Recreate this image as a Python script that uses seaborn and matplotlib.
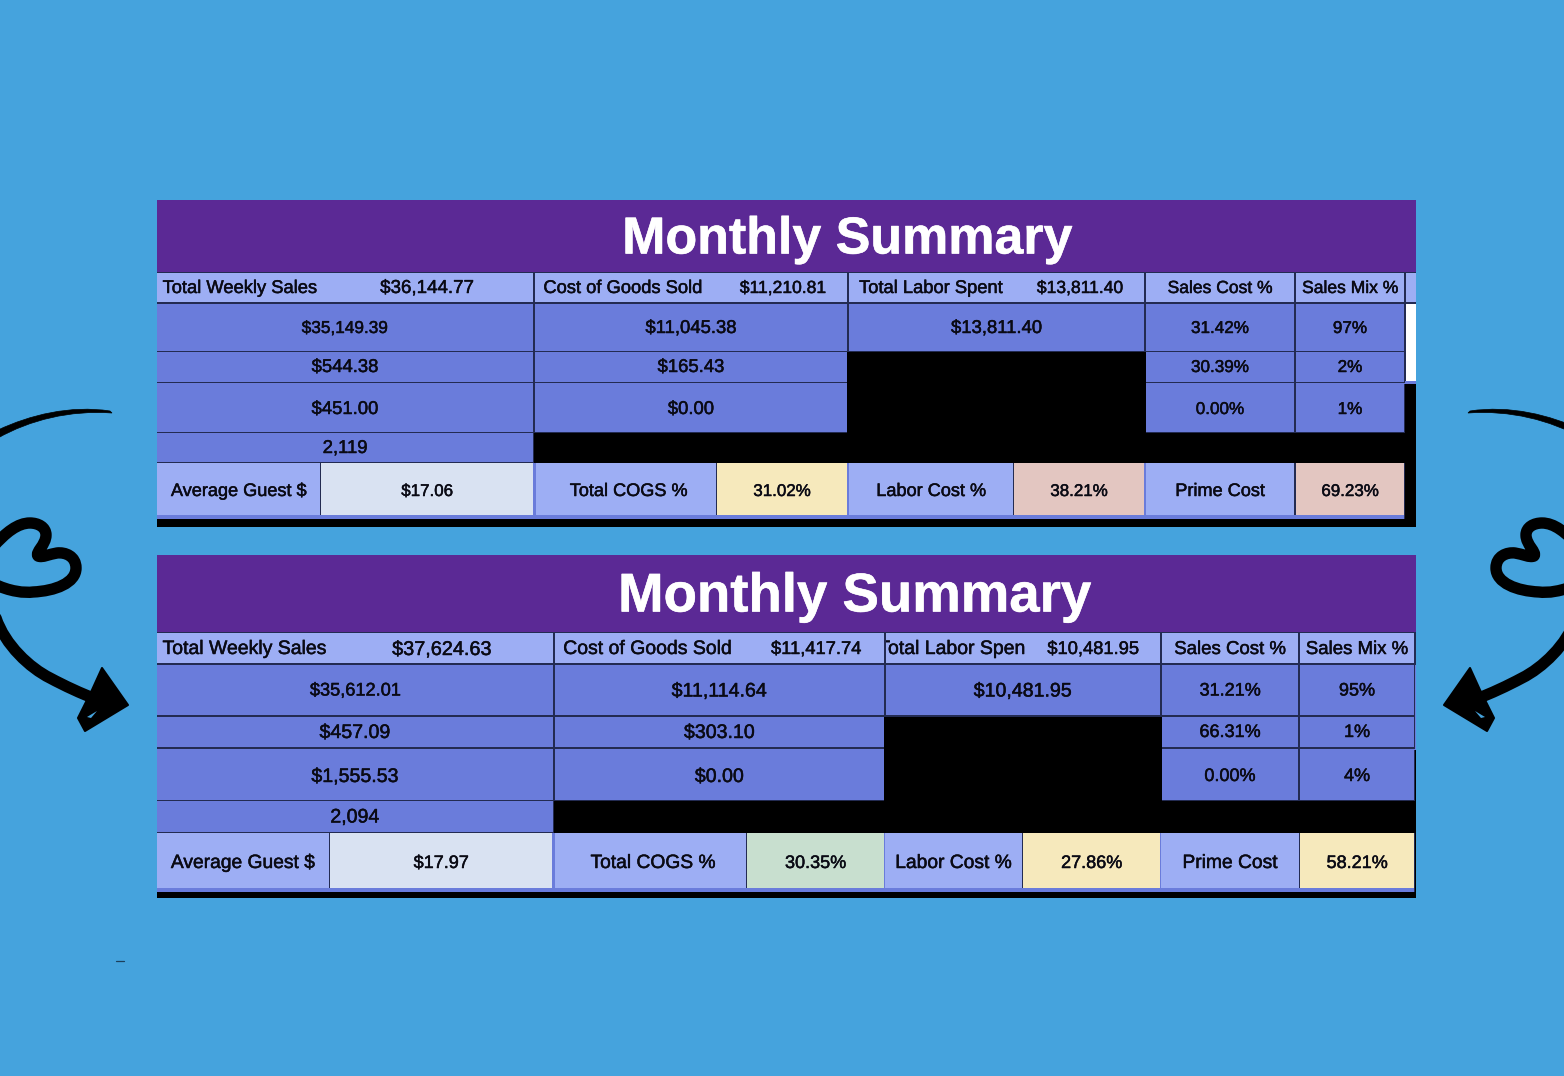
import matplotlib
matplotlib.use("Agg")
import matplotlib.pyplot as plt
import matplotlib.patheffects as pe
from matplotlib.colors import ListedColormap
from matplotlib.path import Path
from matplotlib.patches import PathPatch
import numpy as np
import seaborn as sns

W, H = 1564, 1076

# Table contents
title_text = "Monthly Summary"
header_labels = ["Total Weekly Sales", "Cost of Goods Sold", "Total Labor Spent", "Sales Cost %", "Sales Mix %"]
footer_labels = ["Average Guest $", "Total COGS %", "Labor Cost %", "Prime Cost"]

top_header_values = ["$36,144.77", "$11,210.81", "$13,811.40"]
top_sales = ["$35,149.39", "$544.38", "$451.00", "2,119"]
top_cost = ["$11,045.38", "$165.43", "$0.00"]
top_labor = ["$13,811.40"]
top_cost_pct = ["31.42%", "30.39%", "0.00%"]
top_mix_pct = ["97%", "2%", "1%"]
top_footer_values = ["$17.06", "31.02%", "38.21%", "69.23%"]

bottom_header_values = ["$37,624.63", "$11,417.74", "$10,481.95"]
bottom_sales = ["$35,612.01", "$457.09", "$1,555.53", "2,094"]
bottom_cost = ["$11,114.64", "$303.10", "$0.00"]
bottom_labor = ["$10,481.95"]
bottom_cost_pct = ["31.21%", "66.31%", "0.00%"]
bottom_mix_pct = ["95%", "1%", "4%"]
bottom_footer_values = ["$17.97", "30.35%", "27.86%", "58.21%"]

# Colours
BG = "#45A3DD"
PURPLE = "#5B2995"
LIGHT = "#9DAEF4"
MID = "#6A7CDB"
LINE = "#232B52"
PALE = "#D9E2F2"
YELLOW = "#F6E9BC"
PINK = "#E3C6C1"
GREEN = "#C8DFCF"

# Pixel layout of the two tables
top_layout = {
    "top": 200, "title_bottom": 272, "title_x0": 278, "title_size": 37.4,
    "rows": [(273, 302), (304, 351), (352, 382), (383, 432), (433, 462), (463, 515)],
    "row_dy": [1, 1, 0.5, 2, 1, 2.5],
    "strip": (515, 519), "bottom": 527,
    "cols": [(157, 533), (535, 847), (849, 1144), (1146, 1294), (1296, 1404)],
    "foot": [(157, 320), (321, 533), (536, 716), (717, 847), (849, 1013), (1014, 1144), (1146, 1294), (1296, 1404)],
    "head_x": [(240, 427), (623, 783), (931, 1080)], "labor_split": None,
    "head_val_sizes": [13.5, 12.6, 12.6],
    "sizes": {"head": 13.2, "body": 13.3, "first": 12.4, "pct": 12.3, "foot": 12.2},
    "foot_colors": [PALE, YELLOW, PINK, PINK], "tail_color": "white",
    "tail_x": 1406, "strip_x1": 1405,
}
bottom_layout = {
    "top": 555, "title_bottom": 632, "title_x0": 294, "title_size": 39.3,
    "rows": [(633, 663), (665, 715), (717, 747), (749, 800), (801, 832), (833, 888)],
    "row_dy": [1.5, 1, 0.5, 2, 0.5, 3],
    "strip": (888, 892), "bottom": 898,
    "cols": [(157, 553), (555, 884), (886, 1160), (1162, 1298), (1300, 1414)],
    "foot": [(157, 329), (330, 552), (555, 746), (747, 884), (885, 1022), (1023, 1160), (1161, 1299), (1300, 1414)],
    "head_x": [(245, 442), (648, 816), (955, 1093)], "labor_split": 1025,
    "head_val_sizes": [14.3, 13.2, 13.2],
    "sizes": {"head": 14.0, "body": 14.1, "first": 13.1, "pct": 13.0, "foot": 13.0},
    "foot_colors": [PALE, GREEN, YELLOW, YELLOW], "tail_color": MID,
    "tail_x": 1415, "strip_x1": 1415,
}

sns.set_theme(style="white", font="Liberation Sans")
plt.rcParams["font.family"] = ["Liberation Sans", "DejaVu Sans"]

fig = plt.figure(figsize=(W / 100, H / 100), dpi=100, facecolor=BG)


def cell(x0, y0, x1, y1, color, label=None, size=13, center=None, dy=0, bold=False, text_color="#0A0A14", stroke=0.35):
    # every table cell is its own one-value heatmap, placed by pixel box
    ax = fig.add_axes([x0 / W, 1 - y1 / H, (x1 - x0) / W, (y1 - y0) / H])
    annot = np.array([[label]]) if label else False
    sns.heatmap(
        [[0]], ax=ax, cmap=ListedColormap([color]), cbar=False, annot=annot, fmt="",
        xticklabels=False, yticklabels=False,
        annot_kws={"fontsize": size, "color": text_color, "fontweight": "bold" if bold else "normal"},
    )
    if label:
        txt = ax.texts[0]
        txt.set_clip_on(True)
        txt.set_path_effects([pe.withStroke(linewidth=stroke, foreground=text_color)])
        txt.set_y(0.5 + dy / (y1 - y0))
        if center is not None:
            txt.set_x((center - x0) / (x1 - x0))
    return ax


def draw_table(L, head_vals, sales, cost, labor, cost_pct, mix_pct, foot_vals):
    rows, cols, foot, sz, dys = L["rows"], L["cols"], L["foot"], L["sizes"], L["row_dy"]
    cell(157, L["top"], 1416, L["bottom"], LINE)
    cell(157, L["top"], 1416, L["title_bottom"], PURPLE)
    cell(L["title_x0"], L["top"], 1416, L["title_bottom"], PURPLE, title_text, L["title_size"],
         dy=4, bold=True, text_color="white", stroke=0.4)

    # header row
    y0, y1 = rows[0]
    for i in range(3):
        x0, x1 = cols[i]
        lab_x, val_x = L["head_x"][i]
        if i == 2 and L["labor_split"]:
            split = L["labor_split"]
        else:
            split = x0 + int(0.55 * (x1 - x0))
        cell(x0, y0, split, y1, LIGHT, header_labels[i], sz["head"], center=lab_x, dy=dys[0])
        cell(split, y0, x1, y1, LIGHT, head_vals[i], L["head_val_sizes"][i], center=val_x, dy=dys[0])
    cell(cols[3][0], y0, cols[3][1], y1, LIGHT, header_labels[3], sz["head"] - 0.6, dy=dys[0])
    cell(cols[4][0], y0, cols[4][1], y1, LIGHT, header_labels[4], sz["head"] - 0.6, dy=dys[0])
    if L["tail_x"] < 1415:
        cell(L["tail_x"], y0, 1416, y1, LIGHT)

    # body columns
    for j, v in enumerate(sales):
        y0, y1 = rows[j + 1]
        cell(cols[0][0], y0, cols[0][1], y1, MID, v, sz["first"] if j == 0 else sz["body"], dy=dys[j + 1])
    for j, v in enumerate(cost):
        y0, y1 = rows[j + 1]
        cell(cols[1][0], y0, cols[1][1], y1, MID, v, sz["body"], dy=dys[j + 1])
    y0, y1 = rows[1]
    cell(cols[2][0], y0, cols[2][1], y1, MID, labor[0], sz["body"], dy=dys[1])
    for j, (a, b) in enumerate(zip(cost_pct, mix_pct)):
        y0, y1 = rows[j + 1]
        cell(cols[3][0], y0, cols[3][1], y1, MID, a, sz["pct"], dy=dys[j + 1])
        cell(cols[4][0], y0, cols[4][1], y1, MID, b, sz["pct"], dy=dys[j + 1])

    # blacked out blocks
    cell(cols[1][1], rows[2][0], cols[3][0], rows[3][1] + 1, "black")
    cell(cols[1][0] - 1, rows[4][0], 1416, rows[5][0], "black")
    cell(L["strip_x1"], rows[3][0] + 1, 1416, L["bottom"], "black")
    cell(L["tail_x"], rows[1][0], 1416, rows[2][1] - 1, L["tail_color"])
    cell(L["strip_x1"], rows[2][1] - 1, 1416, rows[3][0] + 1, MID)
    cell(cols[4][1], rows[3][0], 1416, rows[3][0] + 1, MID)

    # footer row
    y0, y1 = rows[5]
    cell(157, y0, foot[-1][1], L["strip"][1], MID)
    cell(157, L["strip"][1], 1416, L["bottom"], "black")
    for k in range(4):
        a, b = foot[2 * k], foot[2 * k + 1]
        mid_x = (a[0] + a[1]) / 2 + (2.5 if k == 1 else 0)
        cell(a[0], y0, b[1], y1, LINE)
        cell(a[0], y0, a[1], y1, LIGHT, footer_labels[k], sz["foot"] + 0.85, center=mid_x, dy=dys[5])
        cell(b[0], y0, b[1], y1, L["foot_colors"][k], foot_vals[k], sz["foot"], dy=dys[5])


draw_table(top_layout, top_header_values, top_sales, top_cost, top_labor, top_cost_pct, top_mix_pct, top_footer_values)
draw_table(bottom_layout, bottom_header_values, bottom_sales, bottom_cost, bottom_labor, bottom_cost_pct, bottom_mix_pct, bottom_footer_values)

# hand drawn arrows at the edges
overlay = fig.add_axes([0, 0, 1, 1], facecolor="none")
overlay.set_xlim(0, W)
overlay.set_ylim(H, 0)
overlay.axis("off")

C4 = Path.CURVE4
swoosh = [(-2, 430), (30, 415), (70, 405), (110, 411), (112, 413), (70, 410), (30, 420), (-2, 438)]
swoosh_codes = [Path.MOVETO, C4, C4, C4, Path.LINETO, C4, C4, C4]
heart = [(-8, 583), (10, 592), (25, 593), (33, 592), (55, 591), (76, 583), (76, 568),
         (76, 556), (65, 552), (57, 553), (50, 554), (42, 558), (38, 556),
         (35, 552), (46, 545), (46, 535), (46, 527), (38, 523), (30, 523),
         (18, 523), (6, 532), (-8, 548)]
heart_codes = [Path.MOVETO] + [C4] * 21
shaft = [(-4, 618), (5, 645), (30, 668), (50, 678), (65, 686), (80, 693), (98, 700)]
shaft_codes = [Path.MOVETO] + [C4] * 6
head = [(102, 668), (128, 705), (85, 731), (78, 718), (92, 690), (102, 668)]
hole = [(87, 717), (97, 711), (91, 718), (87, 717)]


def draw_ornament(flip):
    def tx(points, c=1572):
        return [(c - x, y) if flip else (x, y) for x, y in points]

    overlay.add_patch(PathPatch(Path(tx(swoosh, 1580), swoosh_codes), fc="black", ec="black", lw=0.5))
    overlay.add_patch(PathPatch(Path(tx(heart), heart_codes), fc="none", ec="black", lw=8.2, capstyle="round", joinstyle="round"))
    overlay.add_patch(PathPatch(Path(tx(shaft), shaft_codes), fc="none", ec="black", lw=8.2, capstyle="round"))
    overlay.add_patch(plt.Polygon(tx(head), closed=True, fc="black", ec="black", lw=1.5, joinstyle="round"))
    overlay.add_patch(plt.Polygon(tx(hole), closed=True, fc=BG, ec="none"))


draw_ornament(False)
draw_ornament(True)
overlay.plot([116, 124], [961, 961], color="#1c3f5c", lw=0.9)

fig.savefig("out.png", dpi=100, facecolor=BG)
